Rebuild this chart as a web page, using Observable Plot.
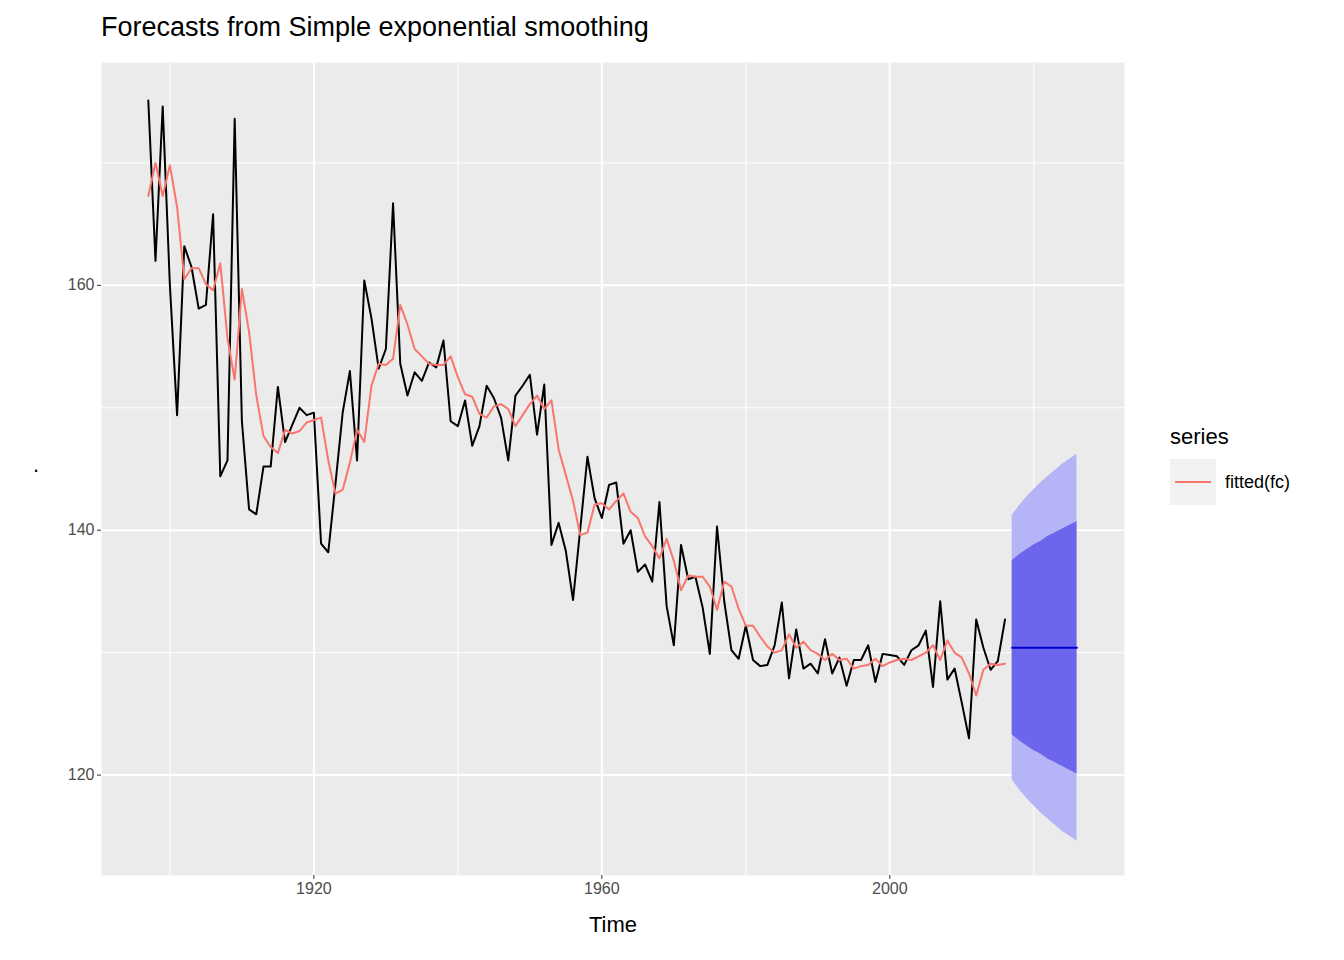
<!DOCTYPE html>
<html><head><meta charset="utf-8">
<script src="https://cdn.jsdelivr.net/npm/d3@7"></script>
<script src="https://cdn.jsdelivr.net/npm/@observablehq/plot@0.6"></script>
<style>
body{margin:0;background:#fff;font-family:"Liberation Sans",Arial,sans-serif;}
#wrap{position:relative;width:1344px;height:960px;}
#title{position:absolute;left:101px;top:12px;font-size:27px;color:#000;}
#chart{position:absolute;left:0;top:55px;}
#leg{position:absolute;left:1170px;top:424px;}
</style></head>
<body><div id="wrap">
<div id="title">Forecasts from Simple exponential smoothing</div>
<div id="chart"></div>
<div id="leg">
  <div style="font-size:22px;color:#000;margin-bottom:9px;">series</div>
  <div style="display:flex;align-items:center;">
    <div style="width:46px;height:46px;background:#F2F2F2;position:relative;"><div style="position:absolute;left:5px;right:5px;top:22px;height:2px;background:#F8766D;"></div></div>
    <span style="font-size:18px;margin-left:9px;color:#000;">fitted(fc)</span>
  </div>
</div>
<div style="position:absolute;left:33px;top:452px;font-size:22px;">.</div>
</div>
<script>
const startYear = 1897;
const observed = [175.1,162,174.6,160,149.4,163.2,161.5,158.1,158.4,165.8,144.4,145.7,173.6,148.9,141.7,141.3,145.2,145.2,151.7,147.2,148.6,150,149.4,149.6,138.9,138.2,143.8,149.6,153,145.7,160.4,157.3,153.2,154.8,166.7,153.6,151,152.9,152.2,153.7,153.3,155.5,148.9,148.5,150.6,146.9,148.5,151.8,150.8,149.2,145.7,151,151.8,152.7,147.8,151.9,138.8,140.6,138.3,134.3,140.1,146,142.6,141,143.7,143.9,138.9,140,136.6,137.2,135.8,142.3,133.8,130.6,138.8,136,136.2,133.7,129.9,140.3,134.2,130.2,129.5,132.2,129.4,128.9,129,130.6,134.1,127.9,131.9,128.7,129.1,128.3,131.1,128.3,129.6,127.3,129.4,129.4,130.6,127.6,129.9,129.8,129.7,129,130.2,130.6,131.8,127.2,134.2,127.8,128.7,125.9,123,132.7,130.4,128.6,129.3,132.7];
const fitted = [167.3,170,167.3,169.8,166.4,160.5,161.4,161.4,160.1,159.6,161.8,155.7,152.3,159.7,156.2,151,147.7,146.8,146.3,148.2,147.9,148.1,148.8,149,149.2,145.7,143,143.3,145.5,148.2,147.2,151.8,153.6,153.5,154,158.4,156.8,154.8,154.2,153.6,153.5,153.5,154.2,152.5,151.1,150.9,149.5,149.2,150.1,150.3,149.9,148.5,149.4,150.3,151,149.9,150.6,146.6,144.5,142.4,139.6,139.8,142.1,142.2,141.7,142.4,143,141.5,141,139.5,138.7,137.7,139.3,137.5,135.1,136.3,136.2,136.2,135.4,133.5,135.8,135.4,133.6,132.2,132.2,131.3,130.5,130,130.2,131.5,130.4,130.9,130.2,129.9,129.4,129.9,129.4,129.5,128.7,128.9,129,129.5,128.9,129.2,129.4,129.5,129.4,129.7,130,130.6,129.4,131,130,129.6,128.3,126.5,128.6,129.1,129,129.1];
const fcYears = [2017,2018,2019,2020,2021,2022,2023,2024,2025,2026];
const fcMean = [130.4,130.4,130.4,130.4,130.4,130.4,130.4,130.4,130.4,130.4];
const lo80 = [123.3,122.8,122.4,122,121.7,121.3,121,120.7,120.4,120.1];
const hi80 = [137.5,138,138.4,138.8,139.1,139.5,139.8,140.1,140.4,140.7];
const lo95 = [119.6,118.8,118.1,117.5,116.9,116.4,115.9,115.4,115,114.6];
const hi95 = [141.2,142,142.7,143.3,143.9,144.4,144.9,145.4,145.8,146.2];

const obs = observed.map((v,i)=>({t:startYear+i,v,f:fitted[i]}));
const fc = fcYears.map((t,i)=>({t,m:fcMean[i],l8:lo80[i],h8:hi80[i],l9:lo95[i],h9:hi95[i]}));

const chart = Plot.plot({
  width:1344, height:905,
  marginLeft:101, marginRight:220, marginTop:7, marginBottom:85,
  style:{fontFamily:"Liberation Sans, Arial, sans-serif", background:"#fff"},
  x:{domain:[1890.5,2032.6]},
  y:{domain:[111.8,178.2]},
  marks:[
    Plot.frame({fill:"#EBEBEB", stroke:null}),
    Plot.ruleY([130,150,170],{stroke:"#fff", strokeWidth:1}),
    Plot.ruleX([1900,1940,1980,2020],{stroke:"#fff", strokeWidth:1}),
    Plot.ruleY([120,140,160],{stroke:"#fff", strokeWidth:2}),
    Plot.ruleX([1920,1960,2000],{stroke:"#fff", strokeWidth:2}),
    Plot.axisX({ticks:[1920,1960,2000], tickFormat:d=>String(d), tickSize:4, tickPadding:3, fontSize:16, color:"#4D4D4D", stroke:"#333", label:null}),
    Plot.axisY({ticks:[120,140,160], tickSize:4, tickPadding:3, fontSize:16, color:"#4D4D4D", stroke:"#333", label:null}),
    Plot.areaY(fc,{x:"t", y1:"l9", y2:"h9", fill:"#B4B4F6"}),
    Plot.areaY(fc,{x:"t", y1:"l8", y2:"h8", fill:"#6B66EC"}),
    Plot.line(fc,{x:"t", y:"m", stroke:"#0000CD", strokeWidth:2}),
    Plot.line(obs,{x:"t", y:"v", stroke:"#000", strokeWidth:2}),
    Plot.line(obs,{x:"t", y:"f", stroke:"#F8766D", strokeWidth:2}),
    Plot.text(["Time"],{frameAnchor:"bottom", dy:56, fill:"#000", fontSize:22, text:d=>d})
  ]
});
document.getElementById("chart").append(chart);
</script>
</body></html>
